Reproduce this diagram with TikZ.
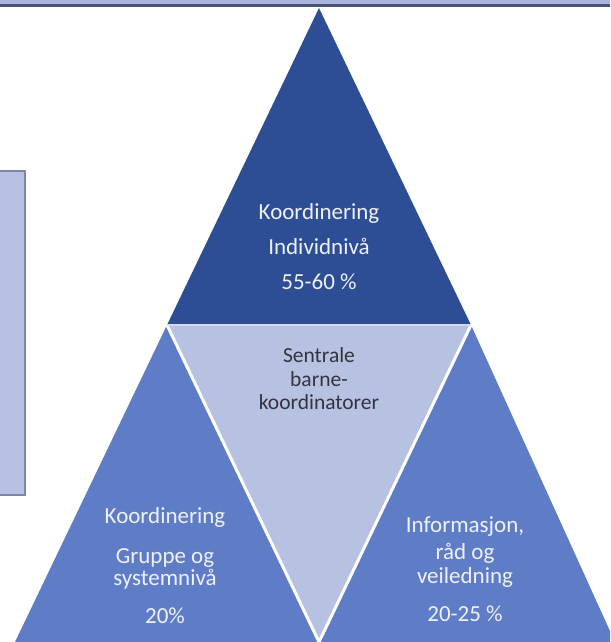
\documentclass[tikz,border=0pt]{standalone}
\usepackage{fontspec}
\setmainfont{Carlito}
\usetikzlibrary{calc}
\setlength{\lineskiplimit}{-10pt}

\definecolor{pyrdark}{HTML}{2D4E95}
\definecolor{pyrmid}{HTML}{5F7DC6}
\definecolor{pyrlight}{HTML}{B7C1E2}
\definecolor{sepline}{HTML}{D3DAF0}
\definecolor{rulelight}{HTML}{A9B5DD}
\definecolor{ruledark}{HTML}{4B5378}
\definecolor{boxfill}{HTML}{B8C1E3}
\definecolor{boxline}{HTML}{7D85AA}
\definecolor{textlight}{HTML}{EEF1FA}
\definecolor{textdark}{HTML}{34343F}

\begin{document}
\begin{tikzpicture}[x=1pt,y=-1pt,
		pyrtext/.style={text=textlight, align=center},
		midtext/.style={text=textdark, align=center}]
			\useasboundingbox (0,0) rectangle (610,642);
			\clip (0,0) rectangle (610,642);
			
			\coordinate (top) at (319,8);
			\coordinate (ml) at (167,325);
			\coordinate (mr) at (471,325);
			\coordinate (bl) at (15,642);
			\coordinate (bm) at (319,642);
			\coordinate (br) at (615,642);
			
			% rule along the top
			\fill [rulelight] (0,0) rectangle (610,4);
			\fill [ruledark] (0,4) rectangle (610,7.5);
			
			% box on the left
			\filldraw [fill=boxfill, draw=boxline, line width=2pt] (-5,171) rectangle (25,495);
			
			\fill [pyrmid] (ml) -- (bl) -- (bm) -- cycle;
			\fill [pyrmid] (mr) -- (bm) -- (br) -- cycle;
			\fill [pyrdark] (top) -- (ml) -- (mr) -- cycle;
			\fill [pyrlight] (ml) -- (mr) -- (bm) -- cycle;
			\draw [white, line width=3pt] (ml) -- (bm) -- (mr);
			\draw [sepline, line width=2pt] (ml) -- (mr);
			
			\node (indiv) [pyrtext, font=\fontsize{23}{35}\selectfont] at (319,247) {Koordinering\\Individnivå\\55-60 \%};
			\node (sentral) [midtext, font=\fontsize{21.5}{23.5}\selectfont] at (319,379) {Sentrale\\barne-\\koordinatorer};
			\node (gruppe) [pyrtext, font=\fontsize{23}{22}\selectfont] at (165,566) {Koordinering\\[18pt]Gruppe og\\systemnivå\\[16pt]20\%};
			\node (info) [pyrtext, font=\fontsize{23}{24}\selectfont] at (465,569) {Informasjon,\\[3pt]råd og\\veiledning\\[14pt]20-25 \%};
		\end{tikzpicture}
\end{document}
